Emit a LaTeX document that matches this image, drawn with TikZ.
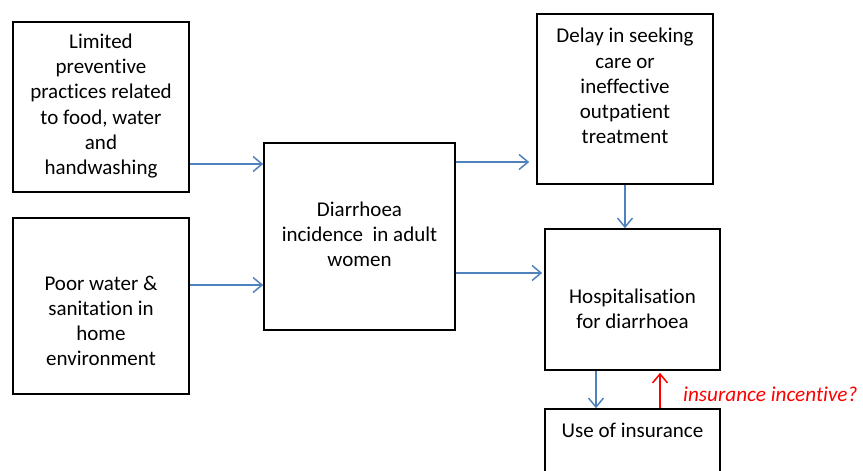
\documentclass[tikz,border=0pt]{standalone}
\usepackage{fontspec}
\setmainfont{Carlito}[Ligatures={NoCommon}]
\usetikzlibrary{arrows.meta}
\definecolor{arrblue}{RGB}{79,129,189}
\definecolor{incred}{RGB}{255,0,0}
\begin{document}
\begin{tikzpicture}[x=1pt,y=-1pt,
  box/.style 2 args={draw=black,line width=1.6pt,inner sep=0pt,minimum width=#1,minimum height=#2},
  txt/.style={font=\fontsize{21}{25.2}\selectfont,align=center,inner sep=0pt},
  barrow/.style={draw=arrblue,line width=1.5pt,-{Straight Barb[length=9pt,width=15pt]}},
  rarrow/.style={draw=incred,line width=1.5pt,-{Straight Barb[length=9pt,width=15pt]}}]
\clip (0,0) rectangle (863,471);
% boxes
\node[box={176}{170}] (A) at (101,107) {};
\node[box={176}{176}] (B) at (101,306) {};
\node[box={191}{187}] (C) at (359.5,236.5) {};
\node[box={176}{170}] (D) at (625,99) {};
\node[box={175}{141}] (E) at (632.5,299.5) {};
\node[box={175}{90}] (F) at (632.5,454) {};
% texts
\node[txt] (At) at (101,106) {Limited\\preventive\\practices related\\to food, water\\and\\handwashing};
\node[txt] (Bt) at (101,321) {Poor water \&\\sanitation in\\home\\environment};
\node[txt] (Ct) at (359.5,234.5) {Diarrhoea\\incidence\ \ in adult\\women};
\node[txt] (Dt) at (625,86) {Delay in seeking\\care or\\ineffective\\outpatient\\treatment};
\node[txt] (Et) at (632.5,308.5) {Hospitalisation\\for diarrhoea};
\node[txt] (Ft) at (632.5,430) {Use of insurance};
\node[font=\fontsize{21.2}{25}\selectfont\itshape,text=incred,inner sep=0pt,anchor=west] (R) at (683,394) {insurance incentive?};
% connectors
\draw[barrow] (A.east |- 0,164) -- (C.west |- 0,164);
\draw[barrow] (B.east |- 0,285) -- (C.west |- 0,285);
\draw[barrow] (C.east |- 0,162) -- ([xshift=-7pt]D.west |- 0,162);
\draw[barrow] (C.east |- 0,273) -- ([xshift=-2pt]E.west |- 0,273);
\draw[barrow] (D.south) -- (E.north -| D.south);
\draw[barrow] (E.south -| 596,0) -- (F.north -| 596,0);
\draw[rarrow] (F.north -| 660,0) -- ([yshift=-2pt]E.south -| 660,0);
\end{tikzpicture}
\end{document}
